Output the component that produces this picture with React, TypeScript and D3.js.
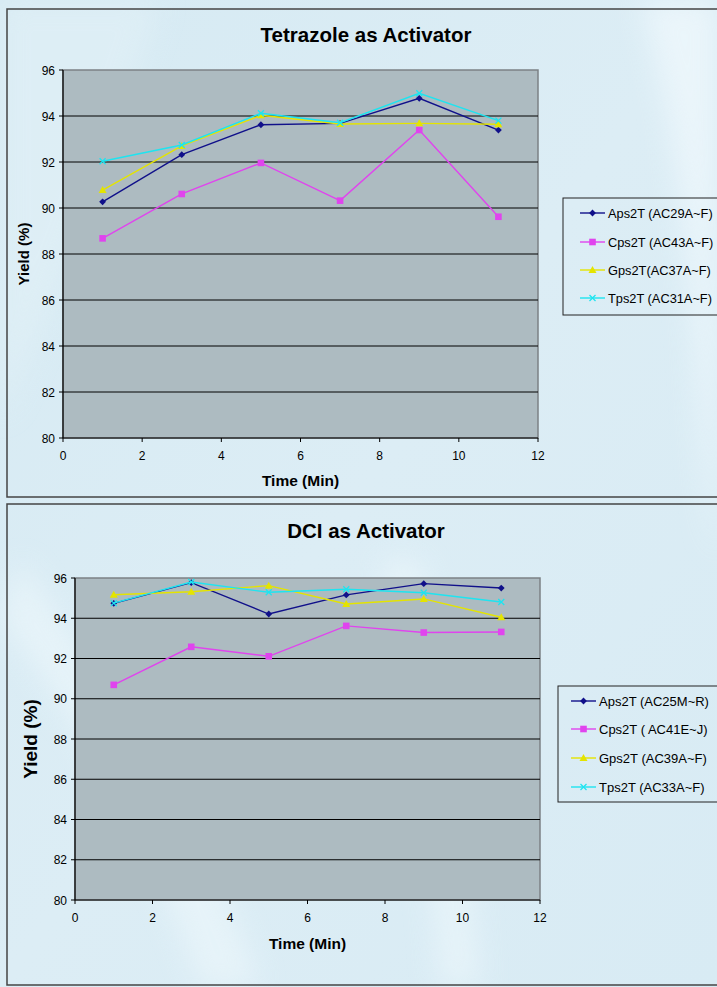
import React from "react";
import * as d3 from "d3";

// Sampling times (min)
const times = [1, 3, 5, 7, 9, 11];

// Tetrazole activator yields (%)
const tetAps = [90.27, 92.32, 93.62, 93.68, 94.77, 93.39];
const tetCps = [88.68, 90.61, 91.96, 90.32, 93.39, 89.62];
const tetGps = [90.78, 92.7, 94.03, 93.65, 93.68, 93.64];
const tetTps = [92.03, 92.74, 94.12, 93.71, 94.99, 93.8];
const tetNames = ["Aps2T (AC29A~F)", "Cps2T (AC43A~F)", "Gps2T(AC37A~F)", "Tps2T (AC31A~F)"];

// DCI activator yields (%)
const dciAps = [94.74, 95.77, 94.21, 95.16, 95.72, 95.5];
const dciCps = [90.69, 92.58, 92.11, 93.62, 93.29, 93.32];
const dciGps = [95.17, 95.32, 95.62, 94.71, 94.96, 94.05];
const dciTps = [94.75, 95.8, 95.29, 95.44, 95.27, 94.81];
const dciNames = ["Aps2T (AC25M~R)", "Cps2T ( AC41E~J)", "Gps2T (AC39A~F)", "Tps2T (AC33A~F)"];

const xTicks = [0, 2, 4, 6, 8, 10, 12];
const yTicks = [80, 82, 84, 86, 88, 90, 92, 94, 96];

const colors = ["#10108a", "#e044ee", "#e4e400", "#1ee4f0"];
const shapes = ["diamond", "square", "triangle", "cross"];

const FONT = "Liberation Sans, Arial, sans-serif";

function Marker({ shape, x, y, color }: { shape: string; x: number; y: number; color: string }) {
  if (shape === "diamond") {
    const s = 3.4;
    return <path d={`M${x},${y - s}L${x + s},${y}L${x},${y + s}L${x - s},${y}Z`} fill={color} />;
  }
  if (shape === "square") {
    return <rect x={x - 3.3} y={y - 3.3} width={6.6} height={6.6} fill={color} />;
  }
  if (shape === "triangle") {
    return <path d={`M${x},${y - 4}L${x + 4},${y + 3}L${x - 4},${y + 3}Z`} fill={color} />;
  }
  const s = 3;
  return (
    <path d={`M${x - s},${y - s}L${x + s},${y + s}M${x + s},${y - s}L${x - s},${y + s}`} stroke={color} strokeWidth={1.3} />
  );
}

type ChartProps = {
  title: string;
  titleY: number;
  series: number[][];
  names: string[];
  left: number;
  right: number;
  top: number;
  bottom: number;
  yTitleX: number;
  yTitleSize: number;
  xLabelY: number;
  xTitleY: number;
  legendX: number;
  legendTop: number;
  legendBottom: number;
  legendRows: number[];
  legendLine: [number, number];
  legendSize: number;
};

function Chart(p: ChartProps) {
  const x = d3.scaleLinear().domain([0, 12]).range([p.left, p.right]);
  const y = d3.scaleLinear().domain([80, 96]).range([p.bottom, p.top]);
  const line = d3
    .line<number>()
    .x((_, i) => x(times[i]))
    .y((d) => y(d));
  const cx = (p.left + p.right) / 2;
  const cy = (p.top + p.bottom) / 2;
  return (
    <g fontFamily={FONT}>
      <text x={366} y={p.titleY} textAnchor="middle" fontSize={20.5} fontWeight="bold" fill="#000">
        {p.title}
      </text>
      <rect x={p.left} y={p.top} width={p.right - p.left} height={p.bottom - p.top} fill="#adbbc1" stroke="#7c8185" strokeWidth={1.5} />
      {yTicks.slice(1, -1).map((t) => (
        <line key={t} x1={p.left} x2={p.right} y1={y(t)} y2={y(t)} stroke="#000" strokeWidth={1} />
      ))}
      {/* axes */}
      <line x1={p.left} x2={p.left} y1={p.top} y2={p.bottom} stroke="#000" strokeWidth={1.2} />
      <line x1={p.left} x2={p.right} y1={p.bottom} y2={p.bottom} stroke="#000" strokeWidth={1.2} />
      {yTicks.map((t) => (
        <g key={t}>
          <line x1={p.left - 4} x2={p.left} y1={y(t)} y2={y(t)} stroke="#000" />
          <text x={p.left - 8} y={y(t) + 4.5} textAnchor="end" fontSize={12} fill="#000">
            {t}
          </text>
        </g>
      ))}
      {xTicks.map((t) => (
        <g key={t}>
          <line x1={x(t)} x2={x(t)} y1={p.bottom} y2={p.bottom + 4} stroke="#000" />
          <text x={x(t)} y={p.xLabelY} textAnchor="middle" fontSize={12} fill="#000">
            {t}
          </text>
        </g>
      ))}
      <text x={cx} y={p.xTitleY} textAnchor="middle" fontSize={15.5} fontWeight="bold" fill="#000">
        Time (Min)
      </text>
      <text
        transform={`translate(${p.yTitleX},${cy}) rotate(-90)`}
        textAnchor="middle"
        fontSize={p.yTitleSize}
        fontWeight="bold"
        fill="#000"
      >
        Yield (%)
      </text>
      {p.series.map((s, k) => (
        <g key={k}>
          <path d={line(s) || ""} fill="none" stroke={colors[k]} strokeWidth={1.4} />
          {s.map((v, i) => (
            <Marker key={i} shape={shapes[k]} x={x(times[i])} y={y(v)} color={colors[k]} />
          ))}
        </g>
      ))}
      {/* legend */}
      <rect x={p.legendX} y={p.legendTop} width={740 - p.legendX} height={p.legendBottom - p.legendTop} fill="none" stroke="#222" strokeWidth={1} />
      {p.names.map((n, k) => (
        <g key={n}>
          <line x1={p.legendLine[0]} x2={p.legendLine[1]} y1={p.legendRows[k]} y2={p.legendRows[k]} stroke={colors[k]} strokeWidth={1.4} />
          <Marker shape={shapes[k]} x={(p.legendLine[0] + p.legendLine[1]) / 2} y={p.legendRows[k]} color={colors[k]} />
          <text x={p.legendLine[1] + 3} y={p.legendRows[k] + 4.5} fontSize={p.legendSize} fill="#000">
            {n}
          </text>
        </g>
      ))}
    </g>
  );
}

export default function App() {
  return (
    <svg width={717} height={987} style={{ position: "absolute", left: 0, top: 0 }}>
      <defs>
        <linearGradient id="bg" x1="0" y1="0" x2="1" y2="1">
          <stop offset="0" stopColor="#d6eaf3" />
          <stop offset="0.5" stopColor="#dcedf5" />
          <stop offset="1" stopColor="#d8ebf4" />
        </linearGradient>
        <filter id="soft">
          <feGaussianBlur stdDeviation="14" />
        </filter>
      </defs>
      <rect width={717} height={987} fill="url(#bg)" />
      {/* faint light swooshes in the backdrop */}
      <g filter="url(#soft)" opacity={0.6}>
        <path d="M640,0 C700,200 690,420 717,560 L717,0 Z" fill="#f4fbfe" />
        <path d="M20,560 C120,700 220,860 260,987 L200,987 C160,860 80,720 0,620 Z" fill="#eef8fc" />
        <path d="M420,560 C460,700 470,860 480,987 L440,987 C430,860 410,700 380,560 Z" fill="#eef8fc" />
        <path d="M0,0 L160,0 C120,120 60,300 0,420 Z" fill="#e2f1f7" />
      </g>
      {/* panel frames */}
      <rect x={7} y={9} width={740} height={488} fill="none" stroke="#444" strokeWidth={1.5} />
      <rect x={7} y={504} width={740} height={481} fill="none" stroke="#444" strokeWidth={1.5} />
      <Chart
        title="Tetrazole as Activator"
        titleY={42}
        series={[tetAps, tetCps, tetGps, tetTps]}
        names={tetNames}
        left={63}
        right={538}
        top={70}
        bottom={438}
        yTitleX={29}
        yTitleSize={15}
        xLabelY={460}
        xTitleY={486}
        legendX={563}
        legendTop={198}
        legendBottom={315}
        legendRows={[213, 242, 270, 298]}
        legendLine={[580, 605]}
        legendSize={12.8}
      />
      <Chart
        title="DCI as Activator"
        titleY={538}
        series={[dciAps, dciCps, dciGps, dciTps]}
        names={dciNames}
        left={75}
        right={540}
        top={578}
        bottom={900}
        yTitleX={37}
        yTitleSize={19}
        xLabelY={922}
        xTitleY={949}
        legendX={558}
        legendTop={686}
        legendBottom={802}
        legendRows={[701, 729, 758, 787]}
        legendLine={[571, 596]}
        legendSize={13}
      />
    </svg>
  );
}
